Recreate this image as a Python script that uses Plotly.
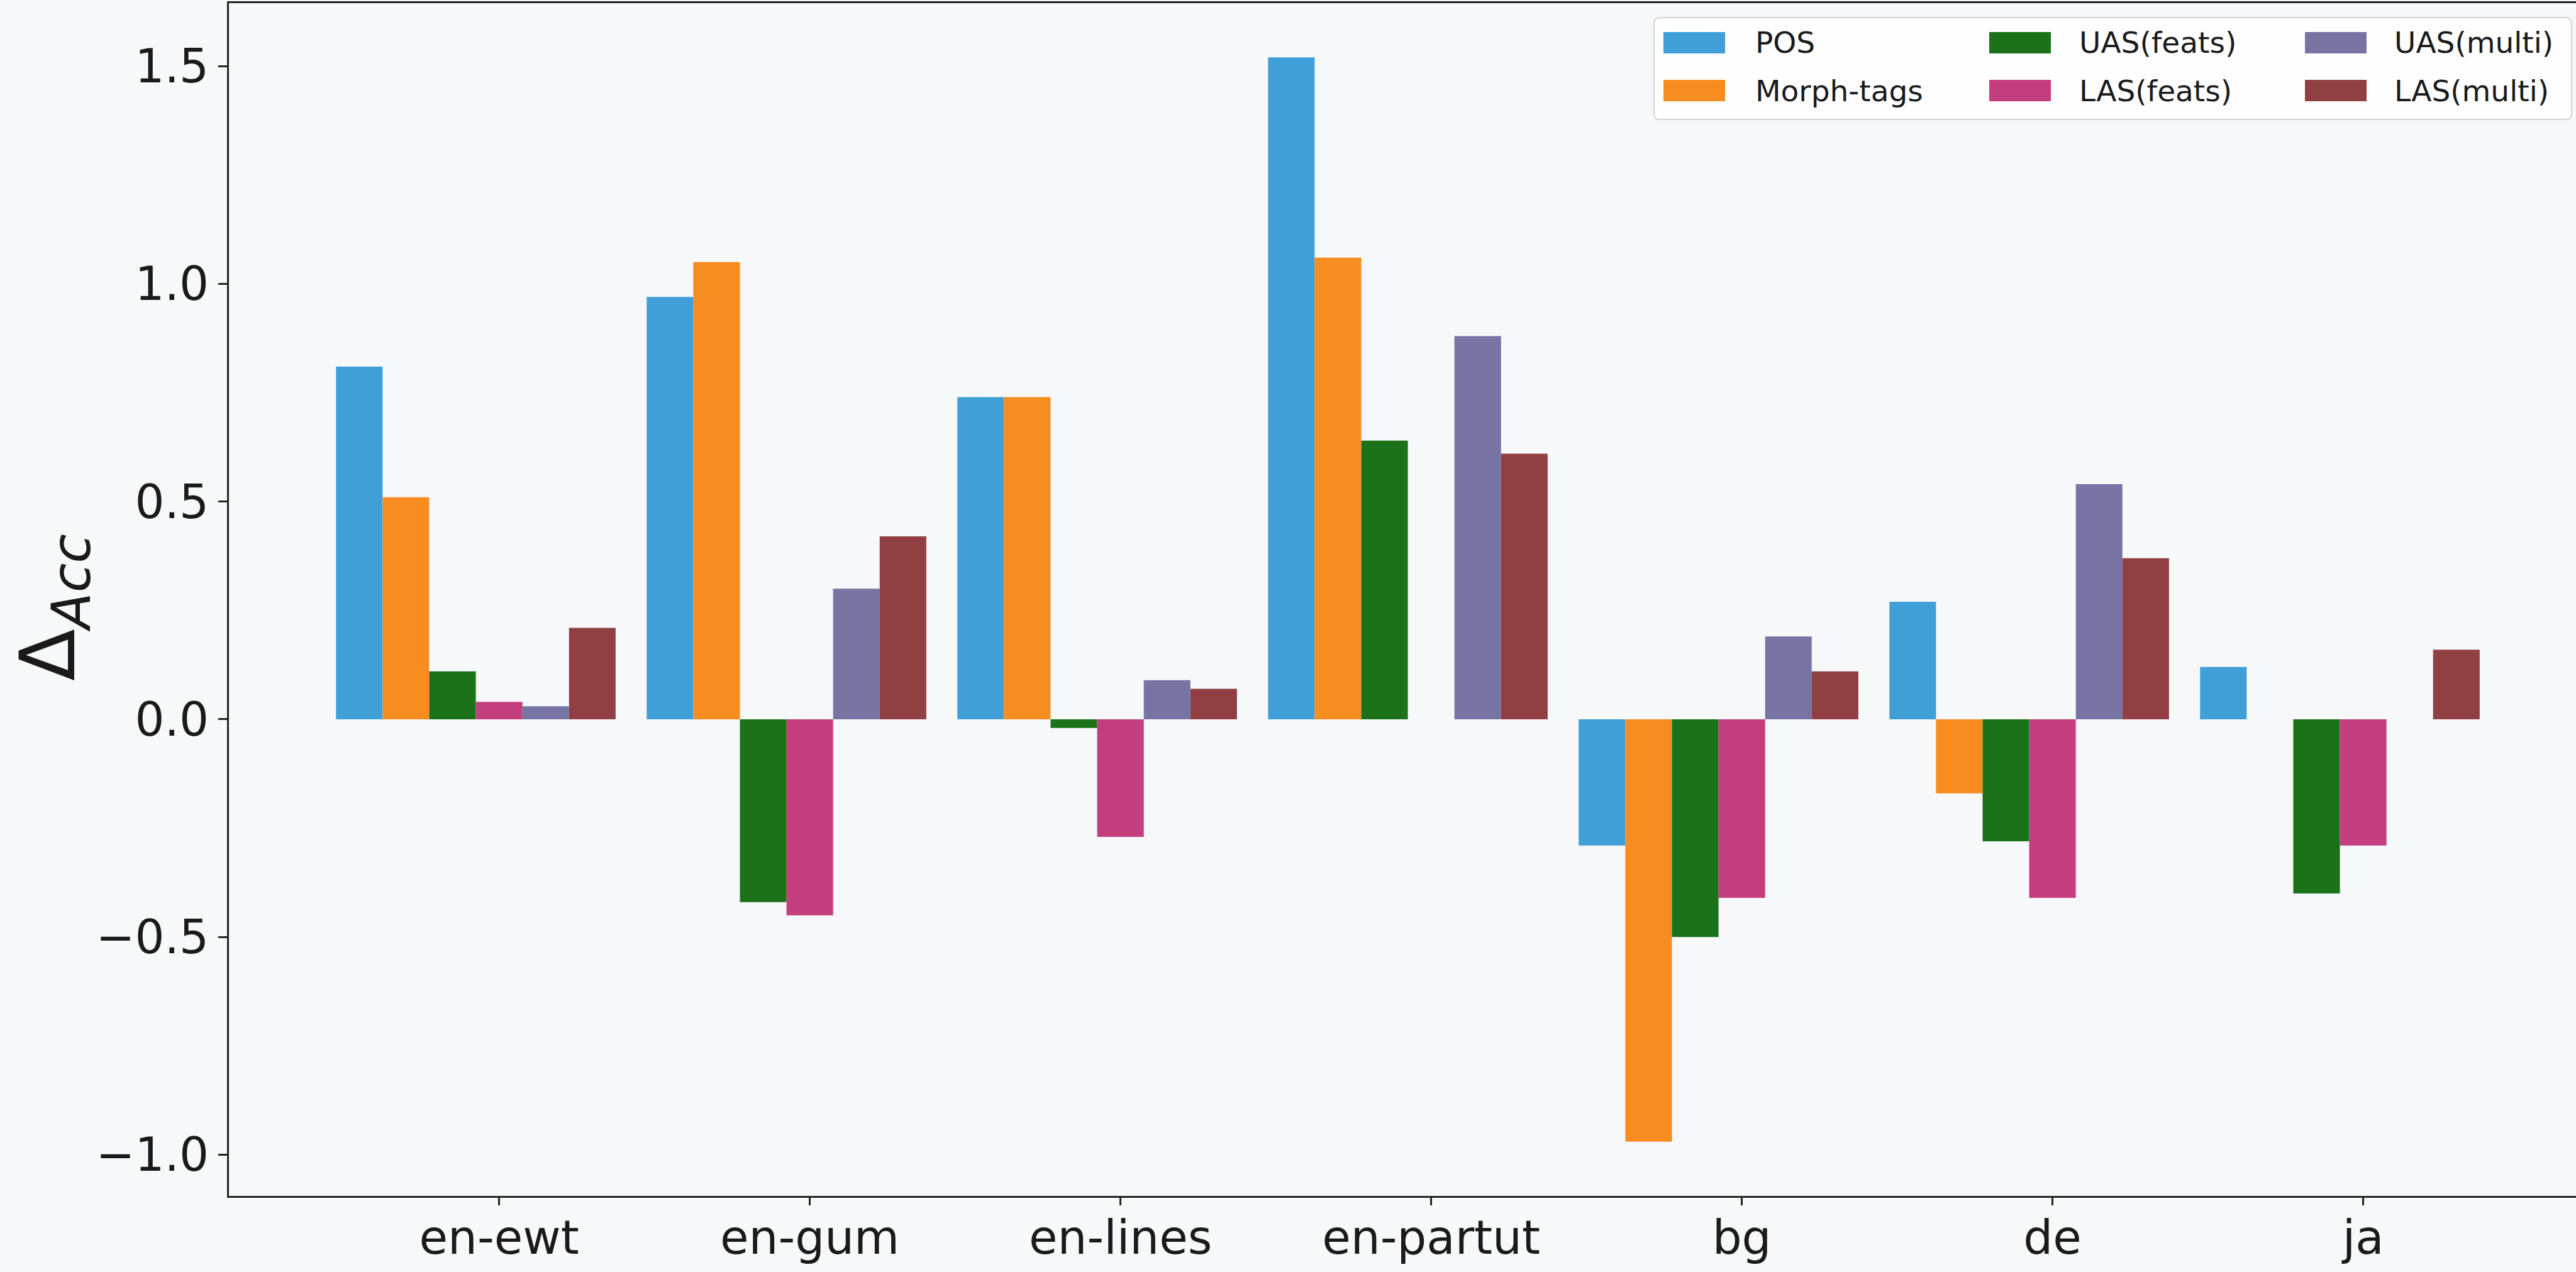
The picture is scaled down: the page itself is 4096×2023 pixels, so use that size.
import plotly.graph_objects as go

# Treebanks on the x axis
treebanks = ["en-ewt", "en-gum", "en-lines", "en-partut", "bg", "de", "ja"]

# Accuracy differences per metric, one value per treebank
pos = [0.81, 0.97, 0.74, 1.52, -0.29, 0.27, 0.12]
morph_tags = [0.51, 1.05, 0.74, 1.06, -0.97, -0.17, 0.0]
uas_feats = [0.11, -0.42, -0.02, 0.64, -0.50, -0.28, -0.40]
las_feats = [0.04, -0.45, -0.27, 0.0, -0.41, -0.41, -0.29]
uas_multi = [0.03, 0.30, 0.09, 0.88, 0.19, 0.54, 0.0]
las_multi = [0.21, 0.42, 0.07, 0.61, 0.11, 0.37, 0.16]

series_names = ["POS", "Morph-tags", "UAS(feats)", "LAS(feats)", "UAS(multi)", "LAS(multi)"]
series_values = [pos, morph_tags, uas_feats, las_feats, uas_multi, las_multi]
series_colors = ["#409fd7", "#f78d21", "#1b7219", "#c23e7c", "#7774a3", "#904043"]

y_tickvals = [-1.0, -0.5, 0.0, 0.5, 1.0, 1.5]
y_ticktext = ["\u22121.0", "\u22120.5", "0.0", "0.5", "1.0", "1.5"]

# ---- figure geometry (pixels) ----
W, H = 4096, 2023
L, R, T, B = 364, 0, 5, 121
PW, PH = W - L - R, H - T - B
BG = "#f7f8fa"
FONT = "DejaVu Sans"
BAR_W = 0.15
X_RANGE = [-0.8697, 6.685]
Y_RANGE = [-1.0945, 1.6445]
AX_COLOR = "#222222"


def px_x(p):
    return (p - L) / PW


def px_y(p):
    return 1 - (p - T) / PH


fig = go.Figure()
xs = list(range(len(treebanks)))
for k, (name, vals, col) in enumerate(zip(series_names, series_values, series_colors)):
    fig.add_trace(go.Bar(
        x=xs, y=vals, name=name,
        width=BAR_W, offset=(k - 3) * BAR_W - BAR_W / 2,
        marker=dict(color=col, line=dict(width=0)),
        showlegend=False,
    ))

# companion x axis that carries only the tick marks
fig.add_trace(go.Scatter(x=[], y=[], xaxis="x2", yaxis="y",
                         showlegend=False, hoverinfo="skip"))

# ---- legend: 3 columns x 2 rows in a rounded frame ----
shapes = []
annotations = []
bx0, bx1, by0, by1, rad = 2630, 4089, 28, 190, 9
shapes.append(dict(
    type="path", xref="paper", yref="paper", layer="above",
    path=(f"M{px_x(bx0 + rad)},{px_y(by0)} L{px_x(bx1 - rad)},{px_y(by0)} "
          f"Q{px_x(bx1)},{px_y(by0)} {px_x(bx1)},{px_y(by0 + rad)} "
          f"L{px_x(bx1)},{px_y(by1 - rad)} Q{px_x(bx1)},{px_y(by1)} {px_x(bx1 - rad)},{px_y(by1)} "
          f"L{px_x(bx0 + rad)},{px_y(by1)} Q{px_x(bx0)},{px_y(by1)} {px_x(bx0)},{px_y(by1 - rad)} "
          f"L{px_x(bx0)},{px_y(by0 + rad)} Q{px_x(bx0)},{px_y(by0)} {px_x(bx0 + rad)},{px_y(by0)} Z"),
    fillcolor="rgba(255,255,255,0.8)", line=dict(color="#d4d4d4", width=2),
))
col_patch_x = [2645, 3163, 3665]
col_text_x = [2789, 3304, 3805]
row_center_y = [68, 144]
patch_w, patch_h = 98, 34
for k, (name, col) in enumerate(zip(series_names, series_colors)):
    c, r = k // 2, k % 2
    x0 = col_patch_x[c]
    yc = row_center_y[r]
    shapes.append(dict(
        type="rect", xref="paper", yref="paper", layer="above",
        x0=px_x(x0), x1=px_x(x0 + patch_w),
        y0=px_y(yc - patch_h / 2), y1=px_y(yc + patch_h / 2),
        fillcolor=col, line=dict(width=0),
    ))
    annotations.append(dict(
        text=name, xref="paper", yref="paper",
        x=px_x(col_text_x[c]), y=px_y(yc), xanchor="left", yanchor="middle",
        showarrow=False, font=dict(family=FONT, size=47, color="#1a1a1a"),
    ))

# y axis title
annotations.append(dict(
    text="\u0394<sub><i>Acc</i></sub>", xref="paper", yref="paper",
    x=px_x(84), y=px_y(966), xanchor="center", yanchor="middle", textangle=-90,
    showarrow=False, font=dict(family=FONT, size=121, color="#1a1a1a"),
))

fig.update_layout(
    width=W, height=H,
    margin=dict(l=L, r=R, t=T, b=B, pad=0),
    paper_bgcolor=BG, plot_bgcolor=BG,
    barmode="overlay",
    font=dict(family=FONT, color="#1a1a1a"),
    shapes=shapes, annotations=annotations,
    xaxis=dict(
        range=X_RANGE,
        tickmode="array", tickvals=xs, ticktext=treebanks,
        showline=True, linecolor=AX_COLOR, linewidth=3, mirror=True,
        ticks="",
        showgrid=False, zeroline=False,
        tickfont=dict(family=FONT, size=74, color="#1a1a1a"),
    ),
    xaxis2=dict(
        range=X_RANGE, overlaying="x", anchor="y", side="bottom",
        tickmode="array", tickvals=xs, showticklabels=False,
        ticks="outside", ticklen=14, tickwidth=2.5, tickcolor=AX_COLOR,
        showline=False, showgrid=False, zeroline=False,
    ),
    yaxis=dict(
        range=Y_RANGE,
        tickmode="array", tickvals=y_tickvals, ticktext=y_ticktext,
        showline=True, linecolor=AX_COLOR, linewidth=3, mirror=False,
        ticks="outside", ticklen=14, tickwidth=2.5, tickcolor=AX_COLOR,
        showgrid=False, zeroline=False,
        tickfont=dict(family=FONT, size=74, color="#1a1a1a"),
        ticklabelstandoff=0,
    ),
)

fig.write_html("out.html")
